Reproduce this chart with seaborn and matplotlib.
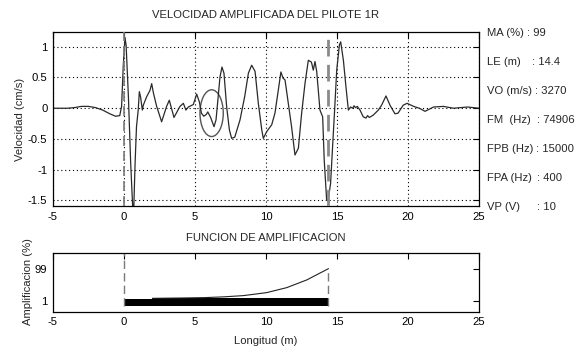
import numpy as np
import pandas as pd
import matplotlib
matplotlib.use("Agg")
import matplotlib.pyplot as plt
from matplotlib.patches import Ellipse
import seaborn as sns

# ---------------- data ----------------
trace_x = [-5.0, -4.0, -3.5, -3.0, -2.5, -2.0, -1.5, -1.0, -0.6, -0.3, -0.17, -0.05,
           0.07, 0.15, 0.31, 0.47, 0.66, 0.78, 0.88, 1.0, 1.08, 1.17, 1.29, 1.36,
           1.6, 1.83, 1.95, 2.07, 2.3, 2.65, 3.0, 3.19, 3.52, 3.94, 4.18, 4.36,
           4.53, 4.88, 5.12, 5.31, 5.45, 5.62, 5.8, 5.9, 6.1, 6.34, 6.48, 6.57,
           6.76, 6.9, 7.04, 7.23, 7.42, 7.58, 7.8, 8.17, 8.5, 8.76, 8.99, 9.23,
           9.46, 9.7, 9.81, 10.05, 10.4, 10.63, 10.87, 11.05, 11.2, 11.34, 11.57,
           11.8, 12.04, 12.28, 12.51, 12.75, 12.98, 13.2, 13.33, 13.45, 13.57,
           13.8, 13.99, 14.1, 14.27, 14.37, 14.55, 14.69, 14.82, 14.98, 15.17,
           15.26, 15.45, 15.63, 15.8, 15.96, 16.1, 16.2, 16.3, 16.43, 16.62,
           16.85, 17.04, 17.15, 17.28, 17.56, 17.91, 18.14, 18.45, 18.73, 19.08,
           19.3, 19.66, 19.94, 20.4, 20.8, 21.2, 21.8, 22.5, 23.2, 24.2, 25.0]
trace_y = [0.0, 0.0, 0.01, 0.03, 0.03, 0.01, -0.03, -0.09, -0.13, -0.12, 0.03, 0.7,
           1.15, 1.02, 0.19, -0.89, -1.85, -0.9, -0.3, -0.03, 0.27, 0.18, -0.03, 0.05,
           0.19, 0.29, 0.4, 0.25, 0.03, -0.22, 0.03, 0.13, -0.15, 0.03, 0.08, -0.03,
           0.02, 0.06, 0.23, 0.1, -0.08, -0.13, -0.1, -0.06, -0.15, -0.3, -0.19, 0.03,
           0.51, 0.67, 0.57, 0.02, -0.35, -0.49, -0.47, -0.19, 0.19, 0.57, 0.7, 0.6,
           0.08, -0.35, -0.49, -0.38, -0.27, -0.08, 0.3, 0.59, 0.49, 0.46, 0.08,
           -0.3, -0.76, -0.65, -0.08, 0.41, 0.78, 0.75, 0.62, 0.76, 0.6,
           -0.03, -0.14, -0.84, -1.49, -1.51, -1.22, -0.62, -0.08, 0.62, 1.03,
           1.08, 0.78, 0.35, -0.03, 0.02, 0.0, 0.04, 0.01, 0.03, -0.03,
           -0.14, -0.16, -0.12, -0.15, -0.11, -0.03, 0.05, 0.2, 0.05, -0.09,
           -0.08, 0.05, 0.08, 0.03, 0.0, -0.05, 0.02, 0.03, 0.0, 0.02, 0.0]

pile_top = 0.0
pile_length = 14.4

amp_x = [2.0, 4.0, 5.7, 7.0, 8.4, 10.05, 11.46, 12.87, 14.4]
amp_y = [8.0, 9.0, 10.2, 12.5, 16.3, 25.5, 40.8, 64.4, 99.0]

bar_x = [0.0, 1.95, 1.95, 14.4]
bar_top = [5.0, 5.0, 10.0, 10.0]
bar_bottom = -17.0

vel_xticks = [-5, 0, 5, 10, 15, 20, 25]
vel_yticks = [-1.5, -1, -0.5, 0, 0.5, 1]
vel_yticklabels = ["-1.5", "-1", "-0.5", "0", "0.5", "1"]
amp_yticks = [1, 99]
amp_yticklabels = ["1", "99"]

param_labels = ["MA (%)", "LE (m)", "VO (m/s)", "FM  (Hz)", "FPB (Hz)", "FPA (Hz)", "VP (V)"]
param_values = ["99", "14.4", "3270", "74906", "15000", "400", "10"]

title_main = "VELOCIDAD AMPLIFICADA DEL PILOTE 1R"
title_amp = "FUNCION DE AMPLIFICACION"

# ---------------- style ----------------
sns.set_style("white")
plt.rcParams['font.family'] = ['Liberation Sans', 'DejaVu Sans']
FS = 8.1

W, H = 581, 348
fig = plt.figure(figsize=(W / 100, H / 100), dpi=100)

def px_rect(l, t, r, b):
    return [l / W, 1 - b / H, (r - l) / W, (b - t) / H]

ax = fig.add_axes(px_rect(53, 32, 479, 206))
ax2 = fig.add_axes(px_rect(53, 253, 479, 311.7))

df = pd.DataFrame({"x": trace_x, "y": trace_y})
sns.lineplot(data=df, x="x", y="y", ax=ax, sort=False, estimator=None,
             color="#2a2a2a", linewidth=0.9)

ax.axvline(pile_top, color="#7a7a7a", linewidth=1.2, dashes=(6, 3), zorder=3)
ax.axvline(pile_length, color="#8a8a8a", linewidth=2.0, dashes=(6, 3), zorder=3)
ax.add_patch(Ellipse((6.17, -0.08), 1.64, 0.76, fill=False, edgecolor="#555555", linewidth=1.0))

ax.set_xlim(-5, 25)
ax.set_ylim(-1.59, 1.24)
ax.set_xticks(vel_xticks)
ax.set_xticklabels([str(t) for t in vel_xticks])
ax.set_yticks(vel_yticks)
ax.set_yticklabels(vel_yticklabels)
ax.grid(True, color="black", linestyle=(0, (1, 2.5)), linewidth=0.8)
ax.set_xlabel("")
ax.set_ylabel("")

# amplification panel
ax2.fill_between(bar_x, bar_bottom, bar_top, color="black", linewidth=0)
dfa = pd.DataFrame({"x": amp_x, "y": amp_y})
sns.lineplot(data=dfa, x="x", y="y", ax=ax2, sort=False, estimator=None,
             color="#222222", linewidth=0.8)
ax2.plot([pile_top, pile_top], [bar_bottom, 150], color="#7a7a7a", linewidth=1.0, dashes=(6, 3))
ax2.plot([pile_length, pile_length], [bar_bottom, amp_y[-1]], color="#7a7a7a", linewidth=1.0, dashes=(6, 3))
ax2.set_xlim(-5, 25)
ax2.set_ylim(-33, 147)
ax2.set_xticks(vel_xticks)
ax2.set_xticklabels([str(t) for t in vel_xticks])
ax2.set_yticks(amp_yticks)
ax2.set_yticklabels(amp_yticklabels)
ax2.set_xlabel("")
ax2.set_ylabel("")

for a in (ax, ax2):
    a.tick_params(direction="in", length=4, width=0.8, top=True, right=True,
                  labelsize=FS, colors="black", pad=4)
    for s in a.spines.values():
        s.set_color("black")
        s.set_linewidth(0.9)
        s.set_visible(True)

# texts
fig.text(266 / W, 1 - 14.5 / H, title_main, ha="center", va="center", fontsize=FS)
fig.text(266 / W, 1 - 238 / H, title_amp, ha="center", va="center", fontsize=FS)
fig.text(266 / W, 1 - 341.5 / H, "Longitud (m)", ha="center", va="center", fontsize=FS)
fig.text(20 / W, 1 - 119 / H, "Velocidad (cm/s)", ha="center", va="center", rotation=90, fontsize=FS)
fig.text(28 / W, 1 - 282 / H, "Amplificacion (%)", ha="center", va="center", rotation=90, fontsize=FS)

colon_px = [525, 531.7, 525, 536.7, 535, 536.7, 536.7]
fig.canvas.draw()
renderer = fig.canvas.get_renderer()
for i, (lab, val) in enumerate(zip(param_labels, param_values)):
    yy = 1 - (33 + 29 * i) / H
    t = fig.text(487 / W, yy, lab, ha="left", va="center", fontsize=FS)
    end_px = t.get_window_extent(renderer).x1
    cx = max(colon_px[i], end_px + 3)
    fig.text(cx / W, yy, ": " + val, ha="left", va="center", fontsize=FS)

fig.savefig("out.png", dpi=100, facecolor="white")
